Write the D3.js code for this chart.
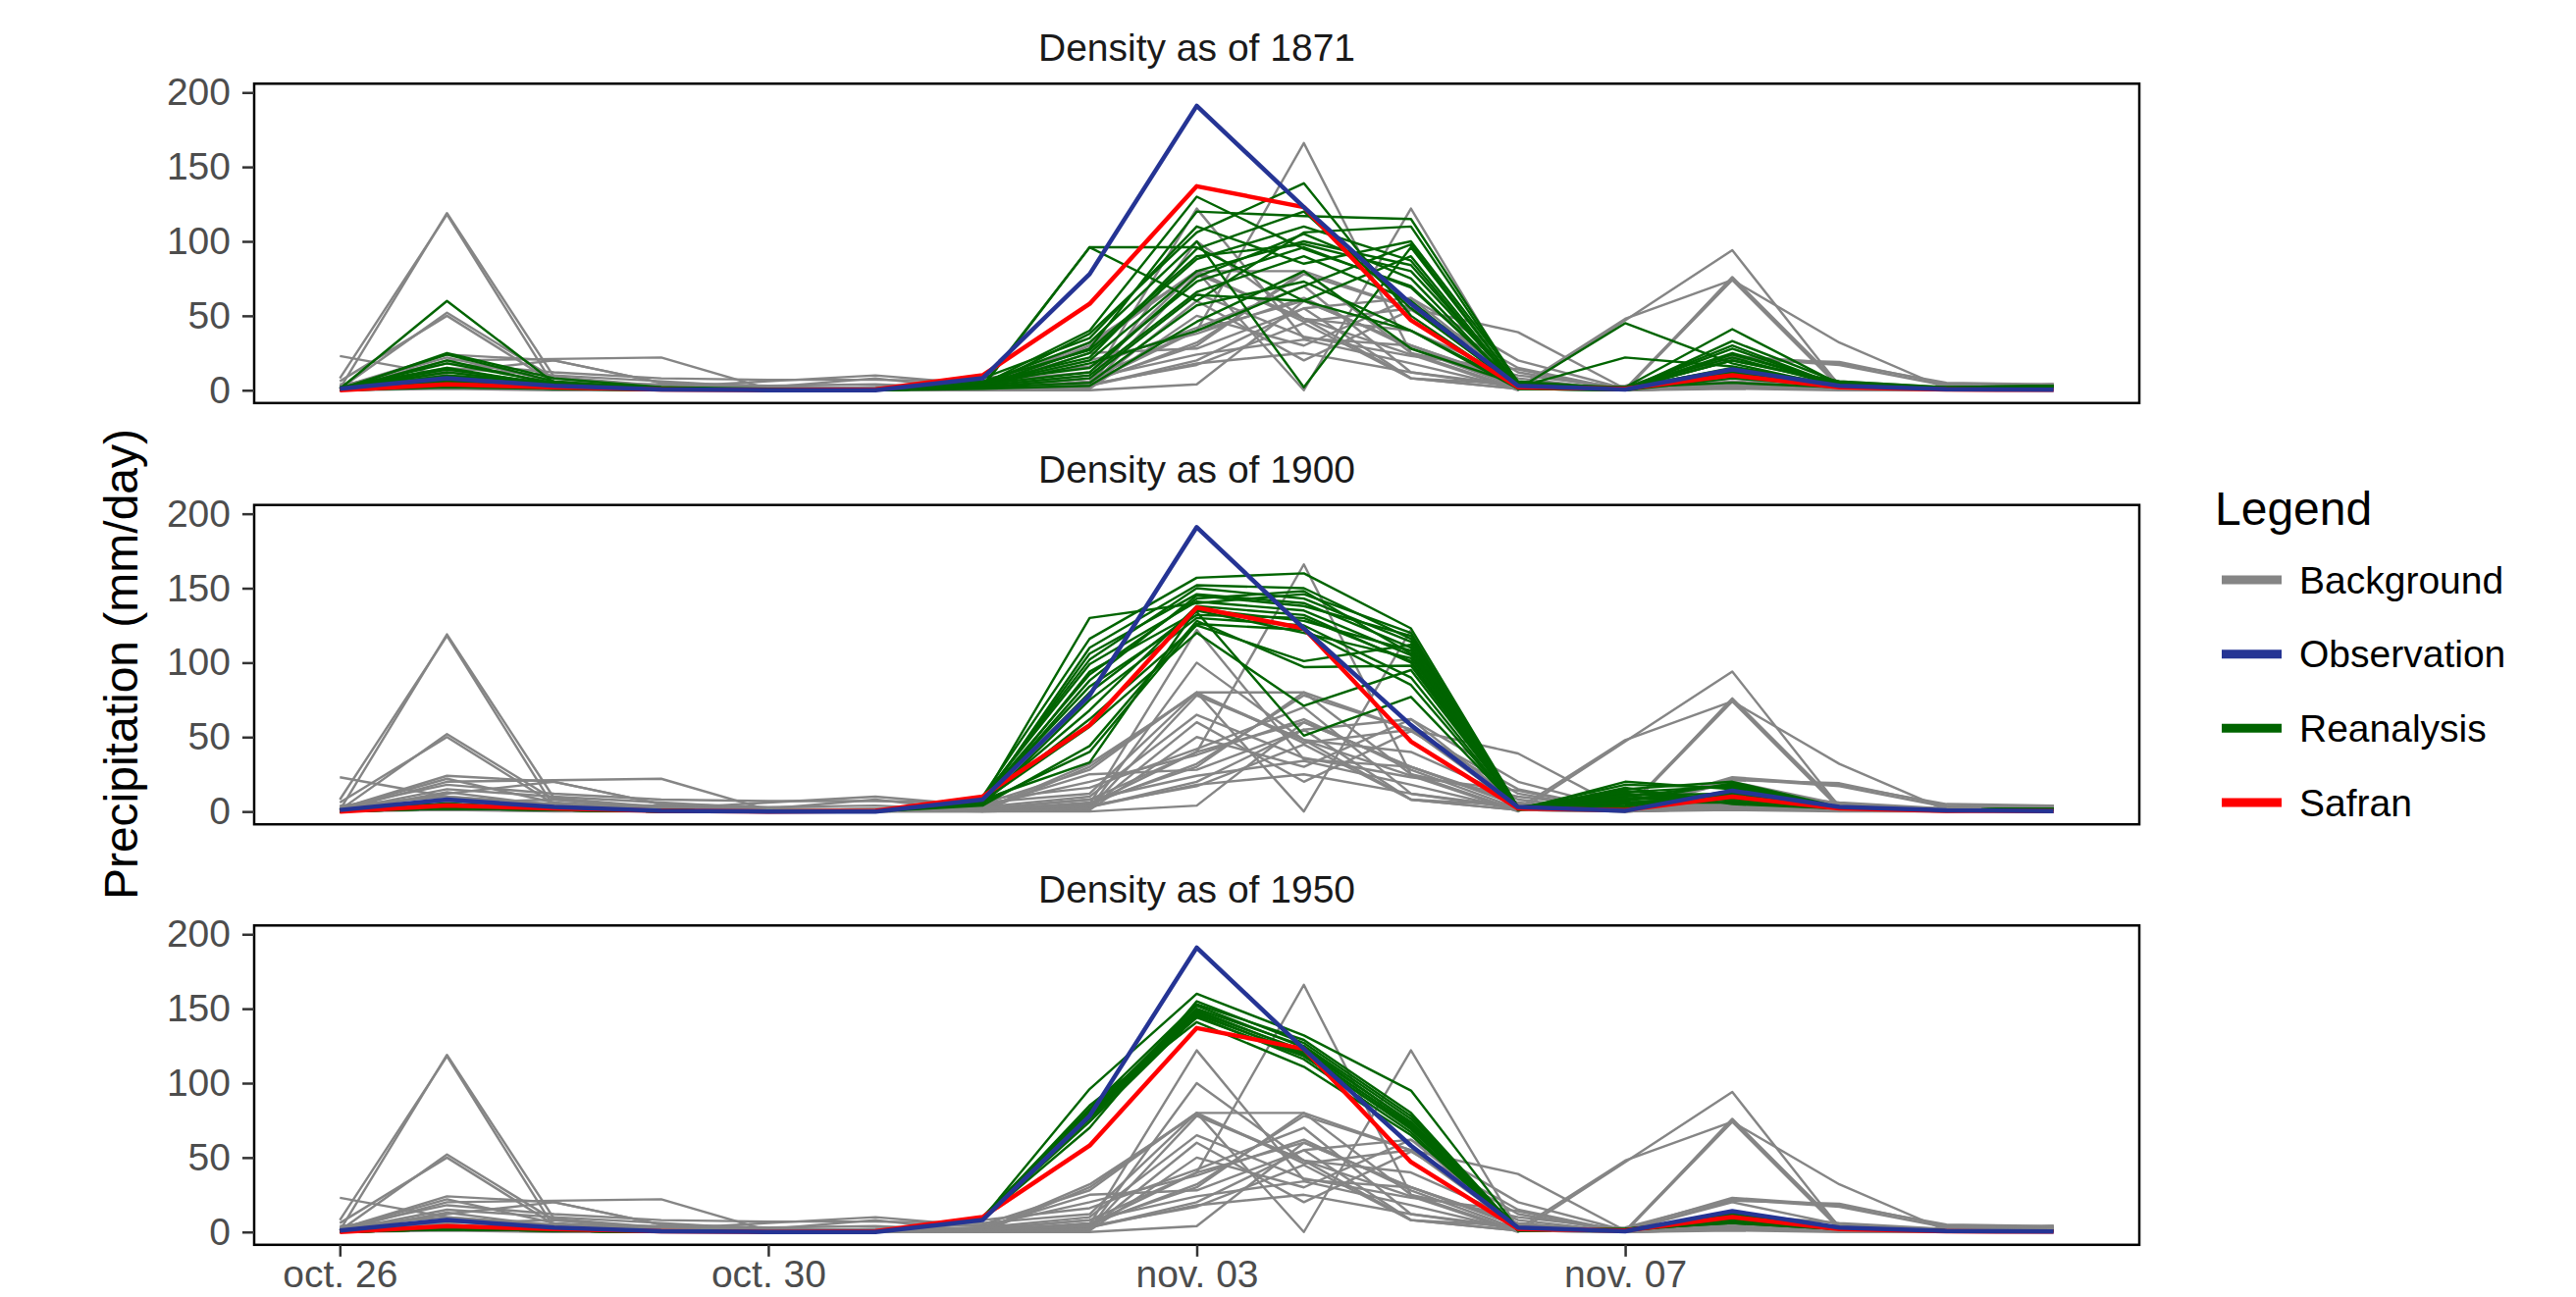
<!DOCTYPE html>
<html>
<head>
<meta charset="UTF-8">
<title>Density panels</title>
<script src="https://cdn.jsdelivr.net/npm/d3@7"></script>
<style>
  html, body { margin: 0; padding: 0; background: #fff; }
  svg text { font-family: "Liberation Sans", Arial, Helvetica, sans-serif; }
</style>
</head>
<body>
<div id="chart"></div>
<script>
// days shown on the x axis (one value per day)
const days = ["oct. 26","oct. 27","oct. 28","oct. 29","oct. 30","oct. 31","nov. 01","nov. 02",
  "nov. 03","nov. 04","nov. 05","nov. 06","nov. 07","nov. 08","nov. 09","nov. 10","nov. 11"];
const xTickLabels = ["oct. 26","oct. 30","nov. 03","nov. 07"];
const yTicks = [0, 50, 100, 150, 200];
const panelTitles = ["Density as of 1871", "Density as of 1900", "Density as of 1950"];
const legendLabels = ["Background", "Observation", "Reanalysis", "Safran"];
const legendColors = ["#858585", "#253494", "#006400", "#ff0000"];

const observation = [1, 8, 3, 0.5, 0, 0, 8, 78, 191, 123, 58, 3, 0.5, 14, 3, 0.7, 0.3];
const safran      = [0, 4, 2, 0.5, 0, 0.5, 10, 58, 137, 123, 47, 2, 1, 10, 2, 0.5, 0.3];

// background ensemble (same in every panel)
const background = [
  [1, 119, 9, 3, 1, 0, 1, 3, 18, 25, 12, 2, 0, 3, 1, 1, 2],
  [8, 118, 3, 1, 0, 0, 2, 5, 40, 60, 30, 5, 1, 75, 3, 1, 3],
  [1, 52, 8, 2, 1, 0, 1, 5, 122, 35, 30, 4, 0, 74, 2, 1, 4],
  [6, 50, 5, 4, 1, 1, 0, 30, 80, 46, 55, 15, 0, 76, 4, 2, 3],
  [23, 10, 5, 1, 0, 0, 2, 8, 40, 166, 25, 10, 2, 23, 18, 5, 4],
  [2, 24, 20, 5, 2, 1, 3, 2, 100, 48, 24, 0, 47, 94, 3, 1, 2],
  [1, 20, 21, 22, 1, 2, 5, 28, 80, 80, 55, 39, 1, 21, 19, 4, 3],
  [3, 18, 12, 8, 7, 7, 6, 12, 80, 0, 122, 2, 48, 74, 32, 1, 2],
  [1, 12, 20, 5, 3, 4, 1, 32, 79, 48, 8, 1, 3, 22, 17, 3, 4],
  [2, 8, 3, 2, 6, 10, 4, 20, 38, 62, 28, 2, 1, 10, 3, 2, 3],
  [0, 5, 2, 1, 0, 2, 1, 5, 32, 78, 55, 3, 0, 5, 2, 1, 2],
  [1, 15, 10, 6, 2, 1, 3, 10, 65, 36, 23, 14, 0, 8, 1, 0, 1],
  [0, 3, 1, 0, 0, 1, 1, 3, 20, 55, 62, 5, 1, 3, 1, 1, 4],
  [4, 10, 4, 2, 1, 0, 0, 2, 78, 48, 40, 8, 0, 2, 1, 0, 2],
  [1, 6, 8, 3, 1, 1, 2, 8, 24, 34, 18, 1, 0, 12, 6, 2, 3],
  [0, 2, 1, 1, 0, 1, 8, 16, 42, 70, 12, 3, 1, 6, 2, 1, 2],
  [2, 22, 6, 2, 0, 0, 1, 1, 50, 30, 62, 20, 1, 4, 3, 1, 3],
  [1, 4, 3, 1, 0, 0, 0, 0, 4, 60, 30, 6, 0, 2, 1, 0, 1],
  [0, 1, 0, 0, 0, 0, 3, 25, 28, 55, 8, 1, 0, 1, 0, 0, 1],
  [3, 7, 3, 1, 1, 1, 1, 4, 17, 45, 8, 4, 1, 20, 5, 1, 2],
  [1, 2, 1, 0, 0, 0, 1, 6, 30, 80, 25, 1, 0, 3, 1, 1, 1],
  [0, 13, 4, 2, 2, 8, 0, 2, 60, 20, 54, 12, 0, 2, 1, 0, 2]
];

const reanalysis1871 = [
  [1, 60, 5, 1, 0, 0, 2, 96, 96, 60, 40, 3, 1, 15, 3, 1, 2],
  [0, 25, 8, 2, 0, 0, 3, 96, 60, 106, 110, 4, 2, 41, 4, 1, 3],
  [1, 24, 6, 1, 0, 1, 4, 40, 130, 95, 70, 2, 1, 28, 3, 2, 2],
  [0, 20, 4, 1, 0, 0, 2, 38, 106, 139, 50, 1, 0, 33, 5, 1, 3],
  [2, 15, 3, 1, 0, 0, 5, 32, 100, 2, 96, 3, 2, 22, 3, 1, 2],
  [1, 12, 4, 1, 1, 0, 3, 28, 120, 117, 115, 5, 1, 20, 6, 2, 3],
  [0, 8, 2, 0, 0, 0, 2, 25, 88, 110, 87, 1, 45, 18, 2, 1, 2],
  [1, 5, 3, 1, 0, 0, 4, 20, 80, 100, 84, 2, 22, 16, 3, 1, 2],
  [0, 3, 2, 1, 0, 1, 6, 15, 73, 96, 69, 3, 1, 12, 4, 1, 3],
  [1, 6, 3, 1, 0, 0, 3, 10, 66, 90, 60, 2, 1, 10, 2, 1, 2],
  [0, 4, 1, 0, 0, 0, 2, 5, 57, 73, 40, 1, 0, 8, 3, 1, 2],
  [1, 10, 5, 2, 1, 0, 1, 3, 46, 80, 28, 4, 2, 5, 2, 1, 3],
  [0, 2, 1, 0, 0, 0, 8, 35, 110, 85, 100, 6, 1, 25, 4, 1, 2],
  [1, 14, 4, 1, 0, 1, 5, 22, 95, 120, 55, 2, 1, 30, 3, 2, 3],
  [0, 7, 2, 1, 0, 0, 3, 18, 40, 70, 98, 3, 2, 14, 2, 1, 2],
  [1, 9, 3, 1, 0, 0, 4, 12, 76, 105, 75, 1, 1, 20, 5, 1, 2],
  [0, 4, 2, 0, 0, 0, 2, 8, 64, 60, 90, 2, 0, 11, 2, 1, 3],
  [1, 18, 5, 1, 0, 0, 6, 27, 90, 98, 80, 3, 1, 24, 4, 1, 2]
];

const reanalysis1900 = [
  [1, 4, 2, 1, 0, 0, 8, 130, 140, 146, 120, 2, 5, 12, 3, 1, 2],
  [0, 3, 1, 0, 0, 0, 10, 116, 157, 160, 123, 3, 10, 18, 2, 1, 1],
  [1, 5, 2, 1, 0, 0, 6, 110, 152, 150, 116, 2, 15, 20, 3, 1, 2],
  [0, 2, 1, 0, 0, 0, 7, 106, 146, 140, 110, 1, 20, 15, 2, 1, 1],
  [1, 4, 2, 1, 0, 0, 9, 99, 141, 135, 105, 2, 8, 10, 3, 1, 2],
  [0, 3, 1, 0, 0, 0, 5, 94, 134, 51, 77, 2, 12, 8, 2, 1, 1],
  [1, 5, 2, 1, 0, 0, 8, 84, 132, 130, 101, 2, 3, 14, 3, 1, 2],
  [0, 2, 1, 0, 0, 0, 6, 62, 125, 101, 112, 1, 6, 6, 2, 1, 1],
  [1, 4, 2, 1, 0, 0, 7, 57, 120, 71, 95, 2, 18, 16, 3, 1, 2],
  [0, 3, 1, 0, 0, 0, 4, 44, 128, 97, 98, 2, 4, 9, 2, 1, 1],
  [1, 5, 2, 1, 0, 0, 8, 33, 136, 128, 108, 3, 11, 12, 3, 1, 2],
  [0, 2, 1, 0, 0, 0, 6, 88, 145, 138, 118, 2, 7, 19, 2, 1, 1],
  [1, 4, 2, 1, 0, 0, 5, 75, 130, 125, 90, 1, 14, 7, 3, 1, 2],
  [0, 3, 1, 0, 0, 0, 9, 102, 150, 143, 114, 2, 2, 13, 2, 1, 1],
  [1, 5, 2, 1, 0, 0, 7, 68, 138, 132, 100, 2, 9, 11, 3, 1, 2],
  [0, 2, 1, 0, 0, 0, 6, 40, 126, 122, 85, 1, 16, 5, 2, 1, 1],
  [1, 4, 2, 1, 0, 0, 8, 92, 143, 148, 106, 2, 13, 17, 3, 1, 2],
  [0, 3, 1, 0, 0, 0, 7, 80, 135, 120, 103, 3, 6, 10, 2, 1, 1]
];

const reanalysis1950 = [
  [1, 3, 1, 0, 0, 0, 9, 96, 160, 132, 95, 2, 1, 10, 2, 1, 1],
  [0, 2, 1, 0, 0, 0, 10, 83, 153, 129, 80, 1, 2, 8, 2, 1, 1],
  [1, 3, 1, 0, 0, 0, 8, 80, 150, 125, 76, 2, 1, 9, 2, 1, 1],
  [0, 2, 1, 0, 0, 0, 9, 78, 148, 122, 74, 1, 2, 7, 2, 1, 1],
  [1, 3, 1, 0, 0, 0, 10, 76, 146, 120, 72, 2, 1, 8, 2, 1, 1],
  [0, 2, 1, 0, 0, 0, 8, 82, 144, 118, 70, 1, 2, 6, 2, 1, 1],
  [1, 3, 1, 0, 0, 0, 9, 85, 141, 111, 65, 2, 1, 12, 2, 1, 1],
  [0, 2, 1, 0, 0, 0, 9, 70, 155, 127, 78, 1, 2, 9, 2, 1, 1],
  [1, 3, 1, 0, 0, 0, 10, 79, 152, 124, 73, 2, 1, 7, 2, 1, 1],
  [0, 2, 1, 0, 0, 0, 8, 81, 149, 121, 71, 1, 2, 10, 2, 1, 1],
  [1, 3, 1, 0, 0, 0, 9, 77, 147, 119, 69, 2, 1, 8, 2, 1, 1],
  [0, 2, 1, 0, 0, 0, 9, 74, 145, 116, 67, 1, 2, 6, 2, 1, 1]
];

const reanalysisByPanel = [reanalysis1871, reanalysis1900, reanalysis1950];

const width = 2625, height = 1322;
const panelLeft = 259, panelRight = 2180;
const panelTops = [85.3, 514.7, 943.3];
const panelH = 325.5;
const smallFont = 39, bigFont = 48;

const svg = d3.select("#chart").append("svg")
  .attr("width", width)
  .attr("height", height)
  .style("display", "block");

svg.append("rect").attr("width", width).attr("height", height).attr("fill", "#fff");

const x = d3.scaleLinear().domain([-0.8, days.length - 1 + 0.8]).range([panelLeft, panelRight]);

const lineFor = y => d3.line().x((d, i) => x(i)).y(d => y(d));

panelTitles.forEach((title, p) => {
  const top = panelTops[p];
  const y = d3.scaleLinear().domain([-8.6, 205.9]).range([top + panelH, top]);
  const line = lineFor(y);
  const g = svg.append("g");

  // strip title
  g.append("text")
    .attr("x", (panelLeft + panelRight) / 2)
    .attr("y", top - 23)
    .attr("text-anchor", "middle")
    .attr("font-size", smallFont)
    .attr("fill", "#1a1a1a")
    .text(title);

  g.append("g").selectAll("path")
    .data(background)
    .join("path")
    .attr("d", line)
    .attr("fill", "none")
    .attr("stroke", legendColors[0])
    .attr("stroke-width", 2.4)
    .attr("stroke-linejoin", "round");

  g.append("g").selectAll("path")
    .data(reanalysisByPanel[p])
    .join("path")
    .attr("d", line)
    .attr("fill", "none")
    .attr("stroke", legendColors[2])
    .attr("stroke-width", 2.4)
    .attr("stroke-linejoin", "round");

  g.append("path")
    .attr("d", line(safran))
    .attr("fill", "none")
    .attr("stroke", legendColors[3])
    .attr("stroke-width", 4.5)
    .attr("stroke-linejoin", "round");

  g.append("path")
    .attr("d", line(observation))
    .attr("fill", "none")
    .attr("stroke", legendColors[1])
    .attr("stroke-width", 4.5)
    .attr("stroke-linejoin", "round");

  // panel border
  g.append("rect")
    .attr("x", panelLeft).attr("y", top)
    .attr("width", panelRight - panelLeft).attr("height", panelH)
    .attr("fill", "none")
    .attr("stroke", "#000")
    .attr("stroke-width", 2.5);

  // y axis
  const yAxis = g.append("g")
    .attr("transform", `translate(${panelLeft},0)`)
    .call(d3.axisLeft(y).tickValues(yTicks).tickSize(12).tickPadding(12));
  yAxis.select(".domain").remove();
  yAxis.selectAll("line").attr("stroke", "#333").attr("stroke-width", 2.5);
  yAxis.selectAll("text")
    .attr("font-size", smallFont)
    .attr("fill", "#4d4d4d")
    .attr("font-family", "Liberation Sans, Arial, sans-serif");

  if (p === panelTitles.length - 1) {
    const xAxis = g.append("g")
      .attr("transform", `translate(0,${top + panelH})`)
      .call(d3.axisBottom(x)
        .tickValues(xTickLabels.map(l => days.indexOf(l)))
        .tickFormat(i => days[i])
        .tickSize(12).tickPadding(4));
    xAxis.select(".domain").remove();
    xAxis.selectAll("line").attr("stroke", "#333").attr("stroke-width", 2.5);
    xAxis.selectAll("text")
      .attr("font-size", smallFont)
      .attr("fill", "#4d4d4d")
      .attr("font-family", "Liberation Sans, Arial, sans-serif");
  }
});

// y axis title
svg.append("text")
  .attr("transform", `translate(140,${(panelTops[0] + panelTops[2] + panelH) / 2}) rotate(-90)`)
  .attr("text-anchor", "middle")
  .attr("font-size", bigFont)
  .attr("fill", "#000")
  .text("Precipitation (mm/day)");

// legend
const legend = svg.append("g");
legend.append("text")
  .attr("x", 2257).attr("y", 535)
  .attr("font-size", bigFont)
  .attr("fill", "#000")
  .text("Legend");

const keyY = d3.scalePoint().domain(legendLabels).range([591, 818]);

legend.selectAll("line.key")
  .data(legendLabels)
  .join("line")
  .attr("class", "key")
  .attr("x1", 2264).attr("x2", 2325)
  .attr("y1", d => keyY(d)).attr("y2", d => keyY(d))
  .attr("stroke", (d, i) => legendColors[i])
  .attr("stroke-width", 9);

legend.selectAll("text.lab")
  .data(legendLabels)
  .join("text")
  .attr("class", "lab")
  .attr("x", 2343)
  .attr("y", d => keyY(d))
  .attr("dy", "0.35em")
  .attr("font-size", smallFont)
  .attr("fill", "#000")
  .text(d => d);
</script>
</body>
</html>
